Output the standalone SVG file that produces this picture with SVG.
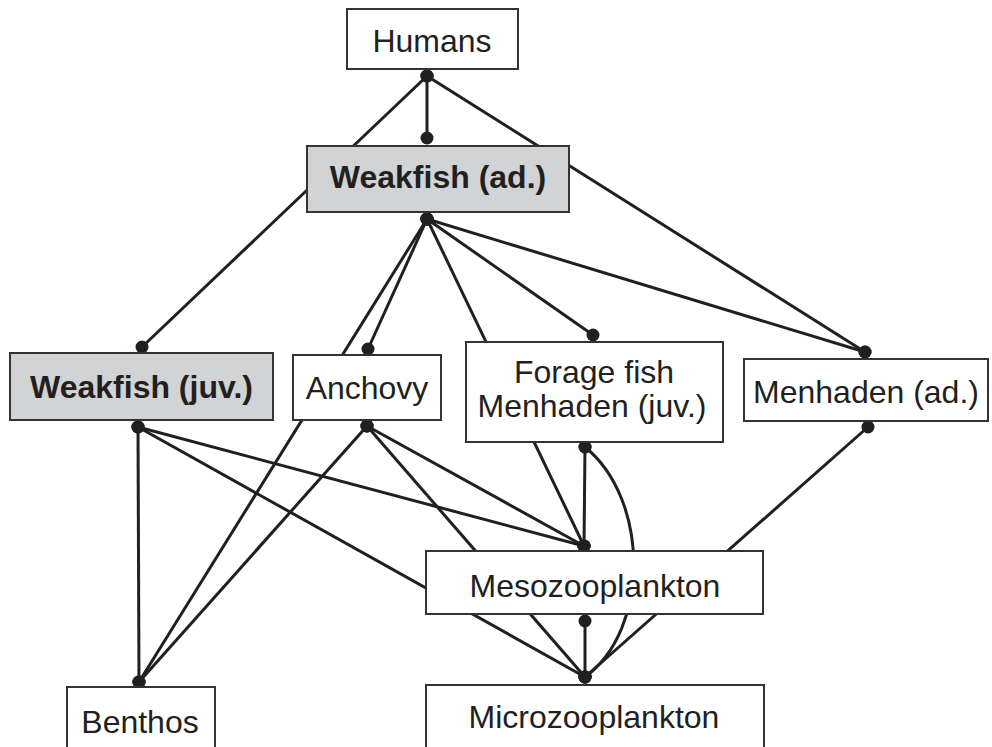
<svg xmlns="http://www.w3.org/2000/svg" width="992" height="747" viewBox="0 0 992 747">
<style>
.c{fill:none;stroke:#231f20;stroke-width:3;marker-start:url(#dot);marker-end:url(#dot)}
.box{fill:#fff;stroke:#333;stroke-width:2}
.gray{fill:#d1d3d4}
.t{font-family:"Liberation Sans",Arial,sans-serif;font-size:32px;fill:#231f20;text-anchor:middle}
.b{font-weight:bold}
</style>
<defs>
<marker id="dot" markerUnits="userSpaceOnUse" markerWidth="14" markerHeight="14" refX="7" refY="7" overflow="visible">
<circle cx="7" cy="7" r="6.5" fill="#231f20"/>
</marker>
</defs>
<rect width="992" height="747" fill="#fff"/>
<g id="connectors">
<line class="c" x1="427" y1="76" x2="142" y2="347"/>
<line class="c" x1="427" y1="76" x2="427" y2="138"/>
<line class="c" x1="427" y1="76" x2="865" y2="352"/>
<line class="c" x1="427" y1="219" x2="139" y2="682"/>
<line class="c" x1="427" y1="219" x2="368" y2="349"/>
<line class="c" x1="427" y1="219" x2="584" y2="546"/>
<line class="c" x1="427" y1="219" x2="593" y2="335"/>
<line class="c" x1="427" y1="219" x2="865" y2="352"/>
<line class="c" x1="138" y1="427" x2="139" y2="682"/>
<line class="c" x1="138" y1="427" x2="584" y2="546"/>
<line class="c" x1="138" y1="427" x2="585" y2="677"/>
<line class="c" x1="367" y1="426" x2="139" y2="682"/>
<line class="c" x1="367" y1="426" x2="584" y2="546"/>
<line class="c" x1="367" y1="426" x2="585" y2="677"/>
<line class="c" x1="585" y1="447" x2="584" y2="546"/>
<path class="c" d="M585,447 C650,500 650,630 585,677"/>
<line class="c" x1="868" y1="427" x2="585" y2="677"/>
<line class="c" x1="585" y1="621" x2="585" y2="677"/>
</g>
<g id="humans">
<rect class="box" x="347" y="9" width="171" height="60"/>
<text class="t" x="432" y="52">Humans</text>
</g>
<g id="weakfish-ad">
<rect class="box gray" x="307" y="146" width="262" height="66"/>
<text class="t b" x="438" y="188">Weakfish (ad.)</text>
</g>
<g id="weakfish-juv">
<rect class="box gray" x="10" y="353" width="263" height="67"/>
<text class="t b" x="141.5" y="398">Weakfish (juv.)</text>
</g>
<g id="anchovy">
<rect class="box" x="293" y="355" width="148" height="65"/>
<text class="t" x="367" y="399">Anchovy</text>
</g>
<g id="forage">
<rect class="box" x="466" y="342" width="257" height="100"/>
<text class="t" x="594" y="383">Forage fish</text>
<text class="t" x="592" y="417">Menhaden (juv.)</text>
</g>
<g id="menhaden-ad">
<rect class="box" x="744" y="359" width="244" height="62"/>
<text class="t" x="866" y="403">Menhaden (ad.)</text>
</g>
<g id="mesozooplankton">
<rect class="box" x="426" y="551" width="337" height="63"/>
<text class="t" x="595" y="597">Mesozooplankton</text>
</g>
<g id="microzooplankton">
<rect class="box" x="426" y="685" width="338" height="70"/>
<text class="t" x="594" y="728">Microzooplankton</text>
</g>
<g id="benthos">
<rect class="box" x="67" y="687" width="148" height="70"/>
<text class="t" x="140" y="733">Benthos</text>
</g>
</svg>
